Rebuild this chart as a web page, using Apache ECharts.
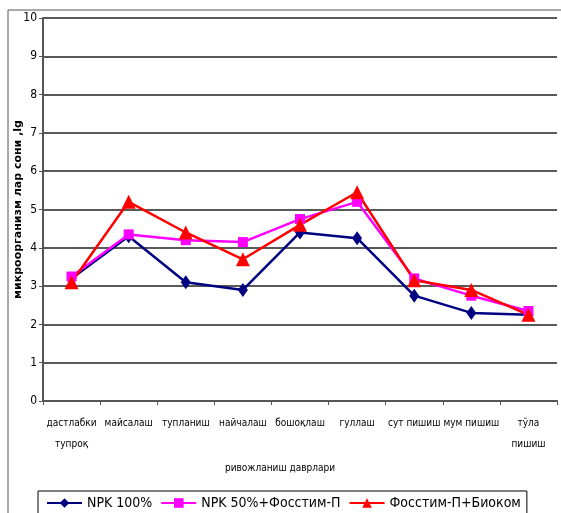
<!DOCTYPE html>
<html>
<head>
<meta charset="utf-8">
<script src="https://cdn.jsdelivr.net/npm/echarts@6/dist/echarts.min.js"></script>
<style>
  html, body { margin: 0; padding: 0; background: #fff; }
  #chart { width: 561px; height: 513px; }
</style>
</head>
<body>
<div id="chart"></div>
<script>
// stages of development (x axis)
const stages = [
  "дастлабки\nтупроқ", "майсалаш", "тупланиш", "найчалаш", "бошоқлаш",
  "гуллаш", "сут пишиш", "мум пишиш", "тўла\nпишиш"
];
const npk100 = [3.2, 4.3, 3.1, 2.9, 4.4, 4.25, 2.75, 2.3, 2.25];
const npk50Fos = [3.25, 4.35, 4.2, 4.15, 4.75, 5.2, 3.2, 2.75, 2.35];
const fosBiokom = [3.1, 5.2, 4.4, 3.7, 4.6, 5.45, 3.15, 2.9, 2.25];
const yTicks = { min: 0, max: 10, step: 1 };

const font = "'DejaVu Sans Condensed', 'Liberation Sans Narrow', 'Liberation Sans', sans-serif";

const chart = echarts.init(document.getElementById("chart"));

function lineSeries(name, data, color, symbol, size) {
  return {
    name: name,
    type: "line",
    data: data,
    symbol: symbol,
    symbolSize: size,
    lineStyle: { color: color, width: 2.5 },
    itemStyle: { color: color },
    emphasis: { disabled: true },
  };
}

chart.setOption({
  animation: false,
  backgroundColor: "#fff",
  textStyle: { fontFamily: font },
  graphic: [
    {
      type: "rect",
      shape: { x: 8, y: 10, width: 600, height: 600 },
      style: { fill: "none", stroke: "#555", lineWidth: 1 },
      silent: true,
    },
  ],
  legend: {
    left: 38,
    top: 491,
    itemWidth: 35,
    itemHeight: 12,
    itemGap: 8,
    padding: [5, 6, 8, 8],
    borderColor: "#000",
    borderWidth: 1,
    textStyle: { color: "#000", fontSize: 14, fontFamily: font },
    data: ["NPK 100%", "NPK 50%+Фосстим-П", "Фосстим-П+Биоком"],
  },
  grid: { left: 43, right: 4, top: 18, bottom: 112, outerBoundsMode: "none", containLabel: false },
  xAxis: {
    type: "category",
    data: stages,
    name: "ривожланиш даврлари",
    nameLocation: "middle",
    nameGap: 62,
    nameMoveOverlap: false,
    nameTextStyle: { color: "#000", fontSize: 10, fontFamily: font, padding: [0, 40, 0, 0] },
    axisLine: { lineStyle: { color: "#555", width: 2 } },
    axisTick: { show: true, length: 4, lineStyle: { color: "#555" } },
    axisLabel: { color: "#000", fontSize: 10, lineHeight: 21, margin: 12, interval: 0 },
  },
  yAxis: {
    type: "value",
    min: yTicks.min,
    max: yTicks.max,
    interval: yTicks.step,
    name: "микроорганизм лар сони ,lg",
    nameLocation: "middle",
    nameGap: 19,
    nameMoveOverlap: false,
    nameTextStyle: { color: "#000", fontSize: 11, fontWeight: "bold", fontFamily: "'DejaVu Sans', sans-serif" },
    axisLine: { show: true, lineStyle: { color: "#555", width: 2 } },
    axisTick: { show: true, length: 4, lineStyle: { color: "#555" } },
    axisLabel: { color: "#000", fontSize: 12, margin: 6 },
    splitLine: { lineStyle: { color: "#222", width: 1.5 } },
  },
  series: [
    lineSeries("NPK 100%", npk100, "#000080", "diamond", [10, 14]),
    lineSeries("NPK 50%+Фосстим-П", npk50Fos, "#ff00ff", "rect", 10),
    lineSeries("Фосстим-П+Биоком", fosBiokom, "#ff0000", "triangle", 14),
  ],
});
</script>
</body>
</html>
